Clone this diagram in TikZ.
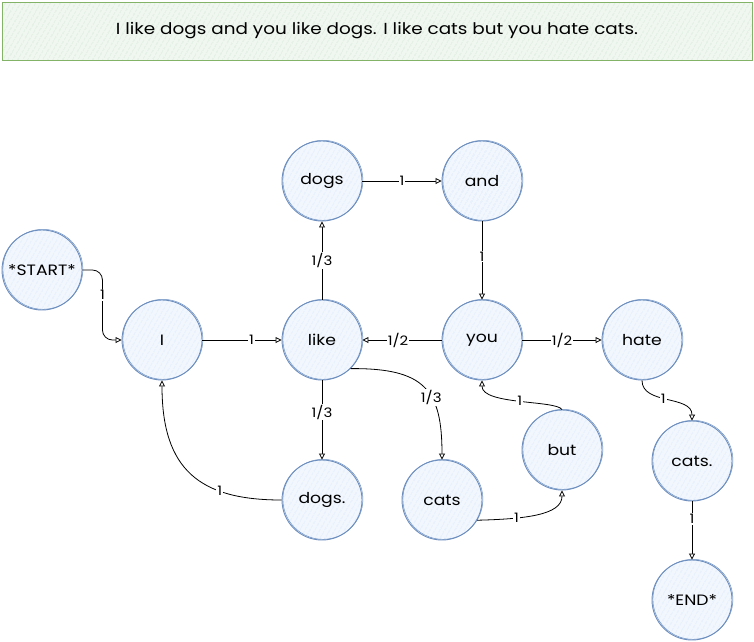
\documentclass[tikz,border=0pt]{standalone}
\usepackage{fontspec}
\setmainfont{Poppins}[FakeStretch=1.15]
\usetikzlibrary{arrows.meta,patterns.meta,calc}
\definecolor{nodeline}{HTML}{6C8EBF}
\definecolor{nodefill}{HTML}{DAE8FC}
\definecolor{boxline}{HTML}{82B366}
\definecolor{boxfill}{HTML}{D5E8D4}
\tikzset{
  word/.style={circle, draw=nodeline, line width=0.9pt, minimum size=80pt, inner sep=0pt,
    preaction={fill=nodefill!35},
    pattern={Lines[angle=60,distance=4pt,line width=0.7pt]}, pattern color=nodefill,
    postaction={draw=nodeline, line width=0.5pt, transform canvas={xshift=0.9pt,yshift=0.7pt}},
    font=\fontsize{15}{17}\selectfont},
  banner/.style={draw=boxline, line width=0.9pt, minimum width=750pt, minimum height=58pt,
    preaction={fill=boxfill!35},
    pattern={Lines[angle=60,distance=4pt,line width=0.7pt]}, pattern color=boxfill,
    font=\fontsize{16}{18}\selectfont},
  edge/.style={draw=black, line width=0.8pt, -{Triangle[open,length=6pt,width=6pt,fill=white]}},
  lbl/.style={fill=white, inner sep=1pt, font=\fontsize{13}{15}\selectfont}
}
\begin{document}
\begin{tikzpicture}[x=1pt,y=-1pt]
\useasboundingbox (0,0) rectangle (754,641);
\node[banner] (title) at (377,31) {I like dogs and you like dogs. I like cats but you hate cats.};

\node[word] (start) at (42,270) {*START*};
\node[word] (i) at (162,340) {I};
\node[word] (like) at (322,340) {like};
\node[word] (dogs) at (322,181) {dogs};
\node[word] (and) at (482,181) {and};
\node[word] (you) at (482,340) {you};
\node[word] (hate) at (642,340) {hate};
\node[word] (dogsp) at (322,500) {dogs.};
\node[word] (cats) at (442,500) {cats};
\node[word] (but) at (562,450) {but};
\node[word] (catsp) at (692,461) {cats.};
\node[word] (end) at (692,600) {*END*};

\draw[edge, rounded corners=10pt] (start.east) -- ++(20,0) |- (i.west) node[lbl, pos=0.18] {1};
\draw[edge] (i.east) -- (like.west) node[lbl, pos=0.62] {1};
\draw[edge] (like.north) -- (dogs.south) node[lbl, midway] {1/3};
\draw[edge] (dogs.east) -- (and.west) node[lbl, midway] {1};
\draw[edge] (and.south) -- (you.north) node[lbl, pos=0.45] {1};
\draw[edge] (you.west) -- (like.east) node[lbl, pos=0.55] {1/2};
\draw[edge] (you.east) -- (hate.west) node[lbl, midway] {1/2};
\draw[edge] (like.south) -- (dogsp.north) node[lbl, pos=0.4] {1/3};
\draw[edge] (like.-45) .. controls (425,368) and (442,390) .. (cats.north) node[lbl, pos=0.6] {1/3};
\draw[edge] (dogsp.west) .. controls (200,500) and (162,470) .. (i.south) node[lbl, pos=0.3] {1};
\draw[edge] (cats.-30) .. controls (525,519) and (562,515) .. (but.south) node[lbl, pos=0.3] {1};
\draw[edge] (but.north) .. controls (556,400) and (482,405) .. (you.south) node[lbl, pos=0.5] {1};
\draw[edge] (hate.south) .. controls (642,405) and (692,395) .. (catsp.north) node[lbl, pos=0.45] {1};
\draw[edge] (catsp.south) -- (end.north) node[lbl, pos=0.3] {1};
\end{tikzpicture}
\end{document}
